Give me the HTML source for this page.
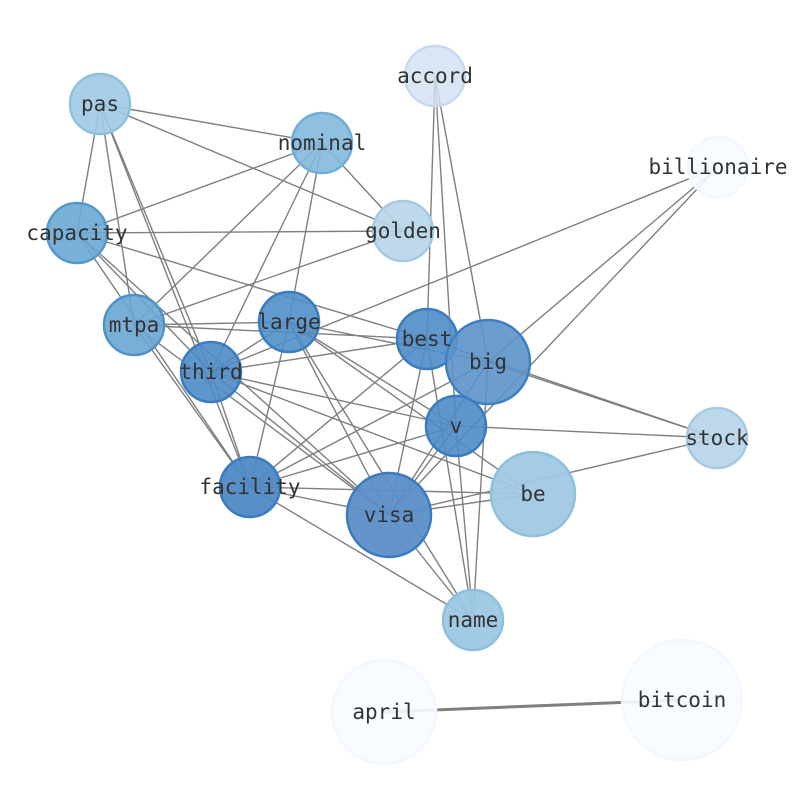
<!DOCTYPE html>
<html><head><meta charset="utf-8"><style>html,body{margin:0;padding:0;background:#fff}svg{display:block}</style></head>
<body>
<svg width="794" height="790" viewBox="0 0 794 790" xmlns="http://www.w3.org/2000/svg">
<g stroke="#7f7f7f" stroke-width="1.4" fill="none">
<line x1="100" y1="104" x2="322" y2="143"/>
<line x1="100" y1="104" x2="403" y2="231"/>
<line x1="100" y1="104" x2="77" y2="233"/>
<line x1="100" y1="104" x2="134" y2="325"/>
<line x1="100" y1="104" x2="211" y2="372"/>
<line x1="100" y1="104" x2="250" y2="487"/>
<line x1="322" y1="143" x2="77" y2="233"/>
<line x1="322" y1="143" x2="403" y2="231"/>
<line x1="322" y1="143" x2="134" y2="325"/>
<line x1="322" y1="143" x2="211" y2="372"/>
<line x1="322" y1="143" x2="289" y2="322"/>
<line x1="77" y1="233" x2="403" y2="231"/>
<line x1="77" y1="233" x2="427" y2="339"/>
<line x1="77" y1="233" x2="211" y2="372"/>
<line x1="77" y1="233" x2="250" y2="487"/>
<line x1="77" y1="233" x2="389" y2="515"/>
<line x1="403" y1="231" x2="134" y2="325"/>
<line x1="134" y1="325" x2="289" y2="322"/>
<line x1="134" y1="325" x2="427" y2="339"/>
<line x1="134" y1="325" x2="250" y2="487"/>
<line x1="134" y1="325" x2="389" y2="515"/>
<line x1="289" y1="322" x2="488" y2="362"/>
<line x1="289" y1="322" x2="211" y2="372"/>
<line x1="289" y1="322" x2="250" y2="487"/>
<line x1="289" y1="322" x2="389" y2="515"/>
<line x1="289" y1="322" x2="456" y2="426"/>
<line x1="289" y1="322" x2="533" y2="494"/>
<line x1="289" y1="322" x2="473" y2="620"/>
<line x1="435" y1="76" x2="427" y2="339"/>
<line x1="435" y1="76" x2="488" y2="362"/>
<line x1="435" y1="76" x2="456" y2="426"/>
<line x1="427" y1="339" x2="211" y2="372"/>
<line x1="427" y1="339" x2="389" y2="515"/>
<line x1="427" y1="339" x2="250" y2="487"/>
<line x1="427" y1="339" x2="473" y2="620"/>
<line x1="427" y1="339" x2="717" y2="438"/>
<line x1="488" y1="362" x2="718" y2="167"/>
<line x1="488" y1="362" x2="717" y2="438"/>
<line x1="488" y1="362" x2="389" y2="515"/>
<line x1="488" y1="362" x2="250" y2="487"/>
<line x1="488" y1="362" x2="473" y2="620"/>
<line x1="718" y1="167" x2="211" y2="372"/>
<line x1="718" y1="167" x2="389" y2="515"/>
<line x1="211" y1="372" x2="456" y2="426"/>
<line x1="211" y1="372" x2="533" y2="494"/>
<line x1="211" y1="372" x2="389" y2="515"/>
<line x1="211" y1="372" x2="250" y2="487"/>
<line x1="456" y1="426" x2="717" y2="438"/>
<line x1="456" y1="426" x2="250" y2="487"/>
<line x1="456" y1="426" x2="389" y2="515"/>
<line x1="456" y1="426" x2="473" y2="620"/>
<line x1="717" y1="438" x2="389" y2="515"/>
<line x1="533" y1="494" x2="250" y2="487"/>
<line x1="533" y1="494" x2="389" y2="515"/>
<line x1="250" y1="487" x2="389" y2="515"/>
<line x1="250" y1="487" x2="473" y2="620"/>
<line x1="389" y1="515" x2="473" y2="620"/>
<line x1="384" y1="712" x2="682" y2="700" stroke-width="3"/>
</g>
<g stroke-width="2.5">
<circle cx="435" cy="76" r="30" fill="#d3e2f2" stroke="#c6d9ee" fill-opacity="0.85"/>
<circle cx="100" cy="104" r="30" fill="#9ecae4" stroke="#8dbfdf" fill-opacity="0.9"/>
<circle cx="322" cy="143" r="30" fill="#84b9dd" stroke="#6faed8" fill-opacity="0.9"/>
<circle cx="718" cy="167" r="30" fill="#f7fbff" stroke="#f3f8fe" fill-opacity="0.9"/>
<circle cx="77" cy="233" r="30" fill="#6aa8d4" stroke="#5599cc" fill-opacity="0.9"/>
<circle cx="403" cy="231" r="30" fill="#b8d5ea" stroke="#a6cae4" fill-opacity="0.9"/>
<circle cx="134" cy="325" r="30" fill="#6aa6d3" stroke="#4e92c8" fill-opacity="0.9"/>
<circle cx="289" cy="322" r="30" fill="#508fc8" stroke="#3a7cbf" fill-opacity="0.9"/>
<circle cx="427" cy="339" r="30" fill="#4f8cc6" stroke="#3a7cbf" fill-opacity="0.9"/>
<circle cx="488" cy="362" r="42" fill="#5b93ca" stroke="#3f80c0" fill-opacity="0.9"/>
<circle cx="211" cy="372" r="30" fill="#4e8cc6" stroke="#3a7cbf" fill-opacity="0.9"/>
<circle cx="456" cy="426" r="30" fill="#4e8cc6" stroke="#3a7cbf" fill-opacity="0.9"/>
<circle cx="717" cy="438" r="30" fill="#b6d4e9" stroke="#a6cae4" fill-opacity="0.9"/>
<circle cx="533" cy="494" r="42" fill="#a0c9e3" stroke="#8dbfdf" fill-opacity="0.95"/>
<circle cx="250" cy="487" r="30" fill="#5089c4" stroke="#3a7cbf" fill-opacity="0.95"/>
<circle cx="389" cy="515" r="42" fill="#5b8fc8" stroke="#3a7cbf" fill-opacity="0.95"/>
<circle cx="473" cy="620" r="30" fill="#9cc8e3" stroke="#8dbfdf" fill-opacity="0.95"/>
<circle cx="384" cy="712" r="52" fill="#f7fbff" stroke="#f3f8fe" fill-opacity="0.9"/>
<circle cx="682" cy="700" r="60" fill="#f7fbff" stroke="#f3f8fe" fill-opacity="0.9"/>
</g>
<g font-family="'DejaVu Sans Mono','Liberation Mono',monospace" font-size="21" fill="#333" text-anchor="middle" dominant-baseline="central">
<text x="435" y="76">accord</text>
<text x="100" y="104">pas</text>
<text x="322" y="143">nominal</text>
<text x="718" y="167">billionaire</text>
<text x="77" y="233">capacity</text>
<text x="403" y="231">golden</text>
<text x="134" y="325">mtpa</text>
<text x="289" y="322">large</text>
<text x="427" y="339">best</text>
<text x="488" y="362">big</text>
<text x="211" y="372">third</text>
<text x="456" y="426">v</text>
<text x="717" y="438">stock</text>
<text x="533" y="494">be</text>
<text x="250" y="487">facility</text>
<text x="389" y="515">visa</text>
<text x="473" y="620">name</text>
<text x="384" y="712">april</text>
<text x="682" y="700">bitcoin</text>
</g>
</svg>
</body></html>
